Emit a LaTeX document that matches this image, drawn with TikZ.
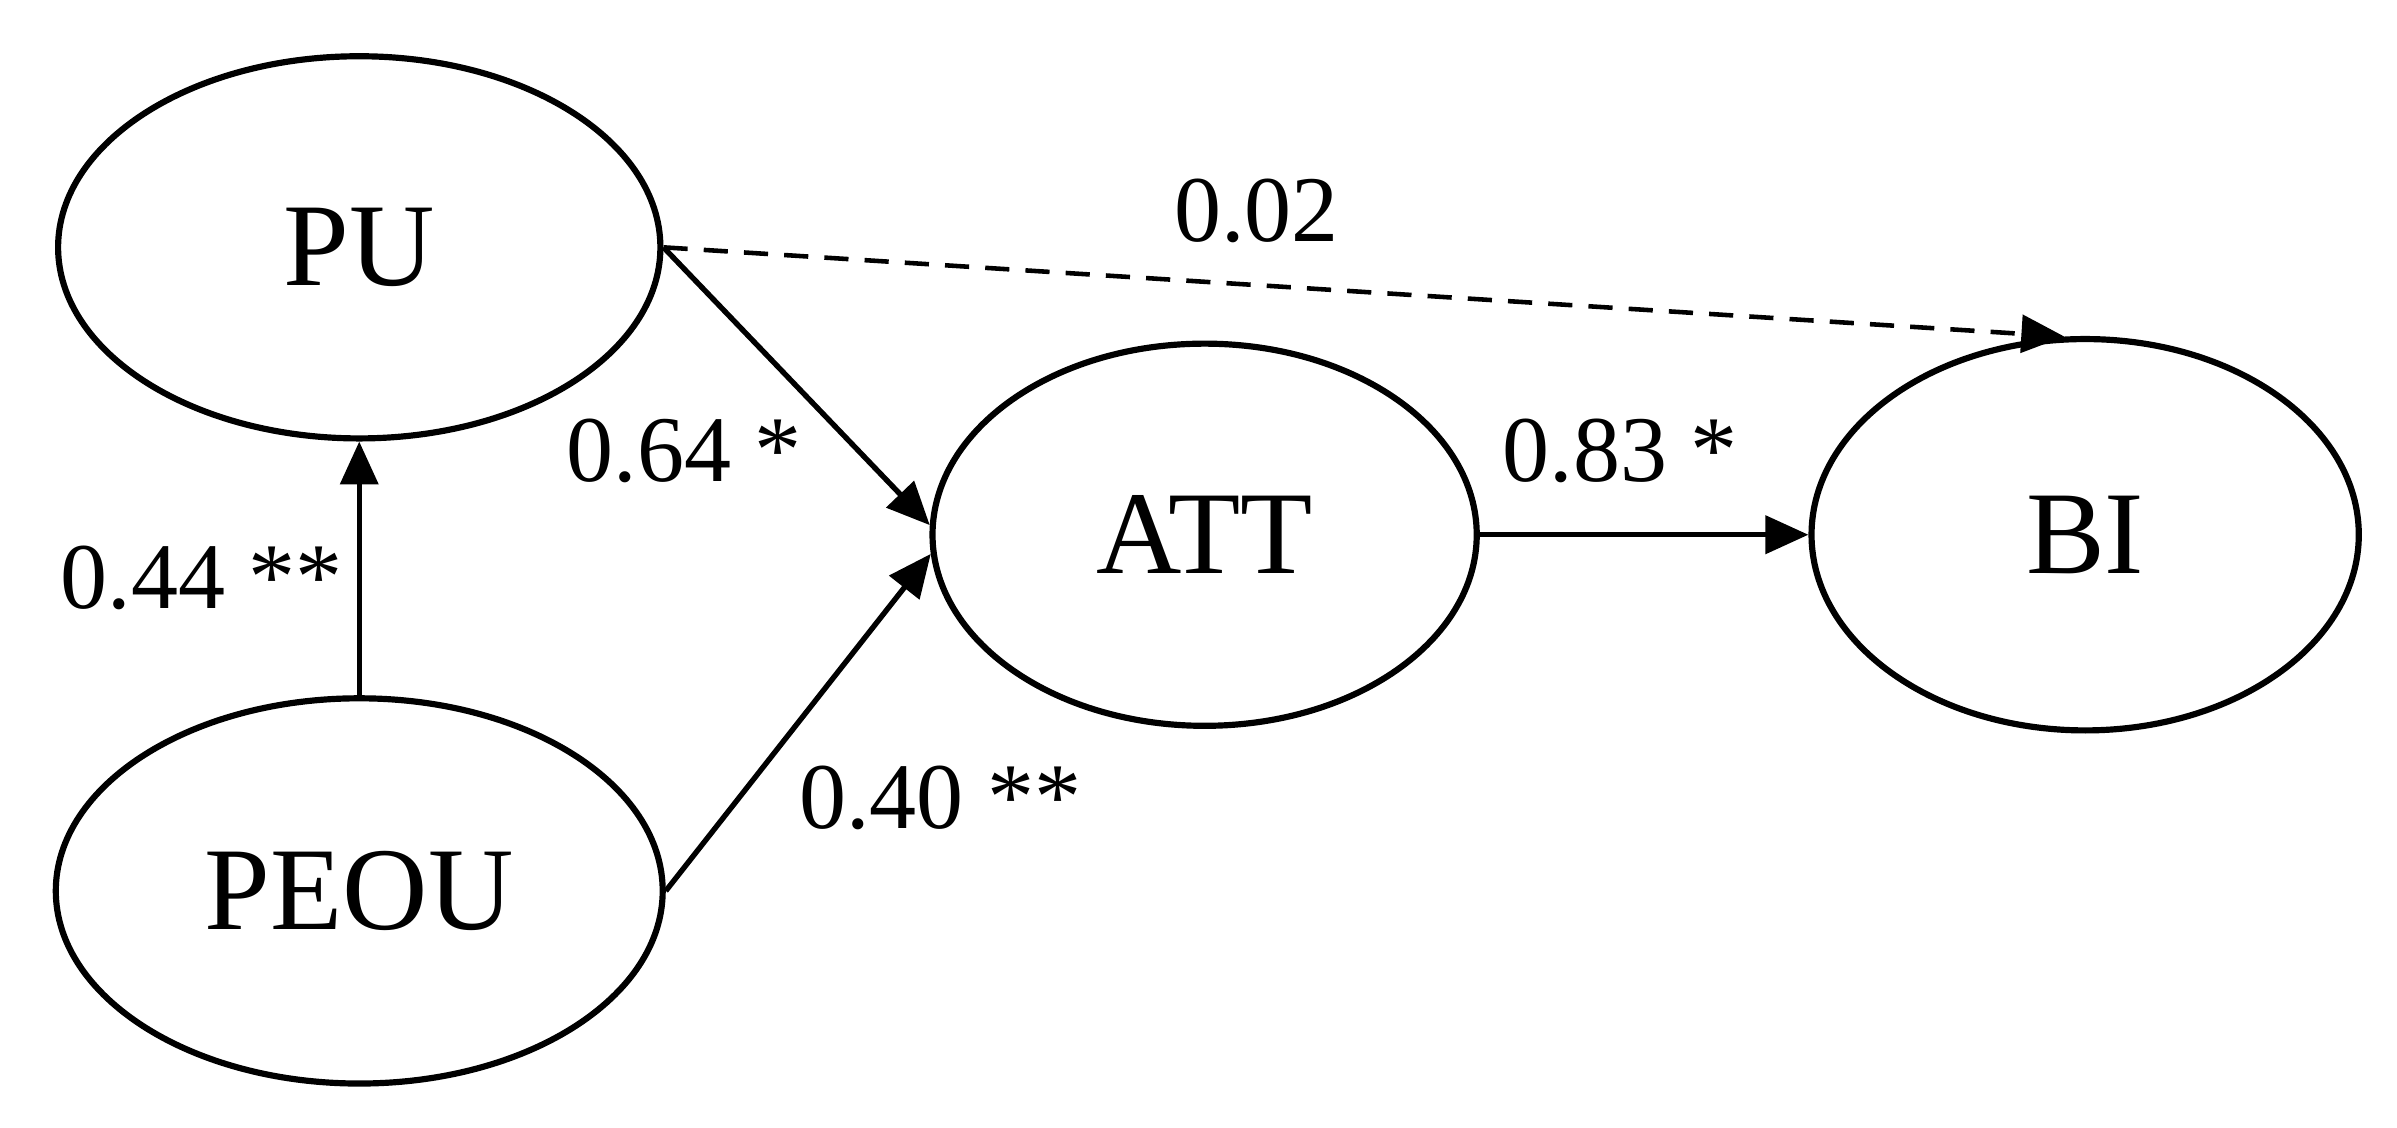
\documentclass[tikz,border=0pt]{standalone}
\usepackage{fontspec}
\setmainfont{Liberation Serif}
\usetikzlibrary{shapes.geometric}
\usetikzlibrary{arrows.meta}

\begin{document}
\begin{tikzpicture}[
    latent/.style={shape=ellipse,draw=black,line width=2.3pt,inner sep=0pt,font=\fontsize{44}{50}\selectfont},
    coef/.style={font=\fontsize{35}{40}\selectfont},
    path/.style={line width=2pt,-{Triangle[length=16pt,width=14pt]}}]
    \useasboundingbox (0,0) rectangle (31.36,14.756);
    \node[latent,minimum width=7.88cm,minimum height=5cm] (PU) at (4.7,11.52) {PU};
    \node[latent,minimum width=7.94cm,minimum height=5.04cm] (PEOU) at (4.7,3.10) {PEOU};
    \node[latent,minimum width=7.12cm,minimum height=5cm] (ATT) at (15.76,7.76) {ATT};
    \node[latent,minimum width=7.16cm,minimum height=5.12cm] (BI) at (27.28,7.76) {BI};

    \draw[path] (PEOU) -- (PU);
    \draw[path] (PU.east) -- (ATT.178);
    \draw[path] (PEOU.east) -- (ATT.184);
    \draw[path] (ATT) -- (BI);
    \draw[path,dash pattern=on 9pt off 6pt,line width=1.7pt] (PU.east) -- (BI.96);

    \node[coef] (c1) at (16.44,12.0) {0.02};
    \node[coef] (c2) at (8.95,8.86) {0.64 *};
    \node[coef] (c3) at (2.64,7.2) {0.44 **};
    \node[coef] (c4) at (12.3,4.32) {0.40 **};
    \node[coef] (c5) at (21.2,8.86) {0.83 *};
\end{tikzpicture}
\end{document}
